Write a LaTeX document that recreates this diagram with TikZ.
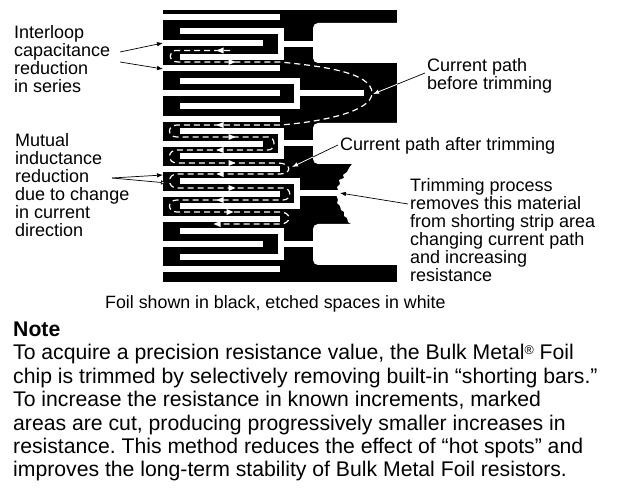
\documentclass[tikz,border=0pt]{standalone}
\usepackage{fontspec}
\setmainfont{Liberation Sans}
\usetikzlibrary{arrows.meta}
\tikzset{
  etch/.style={fill=white,draw=none},
  route/.style={draw=white,line width=1.2pt,dash pattern=on 6pt off 4pt},
  leader/.style={draw=black,line width=0.7pt,-{Latex[length=6pt,width=4.5pt]}},
  whiteleader/.style={draw=white,line width=0.8pt,-{Latex[length=6pt,width=4.5pt]}},
  lab/.style={anchor=north west,inner sep=0pt,align=left,font=\fontsize{18}{18.1}\selectfont},
  bodytxt/.style={anchor=north west,inner sep=0pt,align=left,font=\fontsize{21.2}{23.4}\selectfont\frenchspacing},
  captxt/.style={anchor=north west,inner sep=0pt,font=\fontsize{17.8}{18}\selectfont},
}
\newcommand{\headL}[2]{\fill[white] (#1+3.5,#2) -- (#1-3.5,#2-3) -- (#1-3.5,#2+3) -- cycle;}
\newcommand{\headR}[2]{\fill[white] (#1-3.5,#2) -- (#1+3.5,#2-3) -- (#1+3.5,#2+3) -- cycle;}
\newcommand{\ubar}[4]{% x right, top y, bottom y, stem end
  \fill[etch] (180,#2) rectangle (#1,#2+6);
  \fill[etch] (180,#3-6) rectangle (#1,#3);
  \fill[etch] (#1-6,#2) rectangle (#1,#3);
  \fill[etch] (#1,{(#2+#3)/2-3}) rectangle (#4,{(#2+#3)/2+3});}
\begin{document}
\begin{tikzpicture}[x=1pt,y=-1pt]
\useasboundingbox (0,0) rectangle (618,502);
% foil
\fill[black] (163,10) rectangle (397,282);
\fill[etch,rounded corners=5pt] (313,23) rectangle (410,63);
\fill[etch,rounded corners=5pt] (313,123) rectangle (410,164);
\fill[etch,rounded corners=5pt] (313,224) rectangle (410,265);
\fill[white] (397,150) -- (352,164) -- (349,168) -- (347,172) -- (343,175) -- (344,178) -- (339,180) -- (340,184) -- (337,187) -- (338,190) -- (335,193) -- (337,197) -- (338,200) -- (337,203) -- (340,206) -- (341,210) -- (344,212) -- (344,216) -- (347,218) -- (348,222) -- (351,224) -- (397,240) -- cycle;
\fill[white] (397,0) rectangle (420,290);
% straight lines
\foreach \yy in {14,65,116,166,216,266} {\fill[etch] (163,\yy) rectangle (280,\yy+6);}
% fingers
\fill[etch] (163,40) rectangle (263,46);
\fill[etch] (163,90) rectangle (280,96);
\fill[etch] (163,141) rectangle (263,147);
\fill[etch] (163,191) rectangle (280,197);
\fill[etch] (163,241) rectangle (263,247);
% U shapes
\ubar{284}{28}{60}{313}
\ubar{300}{78}{109}{364}
\ubar{284}{128}{159}{313}
\ubar{300}{178}{209}{340}
\ubar{284}{228}{260}{313}
% current path
\draw[route] (230,50.5) -- (176,50.5) .. controls (168,50.5) and (168,62) .. (178,62) -- (280,62)
  .. controls (320,66) and (372,72) .. (372,93) .. controls (372,112) and (320,122) .. (280,125) -- (177,125)
  .. controls (167,125) and (167,137) .. (177,137) -- (268,137) .. controls (276,137) and (276,150) .. (268,150)
  -- (177,150) .. controls (167,150) and (167,163) .. (177,163) -- (278,163) .. controls (292,163) and (292,174) .. (280,174)
  -- (177,174) .. controls (167,174) and (167,188) .. (177,188) -- (283,188) .. controls (292,188) and (292,200) .. (283,200)
  -- (177,200) .. controls (167,200) and (167,212) .. (177,212) -- (280,212) .. controls (292,212) and (292,224) .. (280,224) -- (217,224);
\headR{220}{50.5}\headL{232}{62}\headR{220}{125}\headL{232}{137}\headR{220}{150}\headL{232}{163}
\headR{220}{174}\headL{232}{188}\headR{220}{200}\headL{230}{212}\headR{217}{224}
% labels
\node[lab] (inter) at (14,25) {Interloop\\capacitance\\reduction\\in series};
\node[lab] (mutual) at (15,133) {Mutual\\inductance\\reduction\\due to change\\in current\\direction};
\node[lab] (before) at (427,58) {Current path\\before trimming};
\node[lab] (after) at (340,137) {Current path after trimming};
\node[lab] (trim) at (410,178) {Trimming process\\removes this material\\from shorting strip area\\changing current path\\and increasing\\resistance};
\node[captxt] (caption) at (105,295) {Foil shown in black, etched spaces in white};
\node[bodytxt,font=\fontsize{21.2}{23.4}\selectfont\bfseries] (notehead) at (13,321.5) {Note};
\node[bodytxt] (note) at (13,344.3) {To acquire a precision resistance value, the Bulk Metal\raisebox{0.5ex}{\fontsize{12.5}{12.5}\selectfont ®} Foil\\chip is trimmed by selectively removing built-in “shorting bars.”\\To increase the resistance in known increments, marked\\areas are cut, producing progressively smaller increases in\\resistance. This method reduces the effect of “hot spots” and\\improves the long-term stability of Bulk Metal Foil resistors.};
% connectors
\coordinate (a1) at (120,52); \coordinate (a1t) at (163,43);
\coordinate (a2) at (120,62); \coordinate (a2t) at (163,69);
\coordinate (m0) at (112,178); \coordinate (m1t) at (163,175); \coordinate (m2t) at (167,183);
\coordinate (b1) at (425,73); \coordinate (b1t) at (373,94);
\coordinate (c0) at (338,145); \coordinate (c1t) at (292,167);
\coordinate (t0) at (408,204); \coordinate (t1t) at (340,193);
\draw[leader] (a1) -- (a1t);
\draw[leader] (a2) -- (a2t);
\draw[leader] (m0) -- (m1t);
\draw[leader,-{Latex[length=6pt,width=4.5pt,fill=white]}] (m0) -- (m2t);
\draw[leader] (b1) -- (b1t);
\begin{scope}
  \clip (163,10) rectangle (397,282);
  \draw[whiteleader] (b1) -- (b1t);
\end{scope}
\draw[leader] (c0) -- (c1t);
\begin{scope}
  \clip (163,10) rectangle (313,282);
  \draw[whiteleader] (c0) -- (c1t);
\end{scope}
\draw[leader] (t0) -- (t1t);
\end{tikzpicture}
\end{document}
